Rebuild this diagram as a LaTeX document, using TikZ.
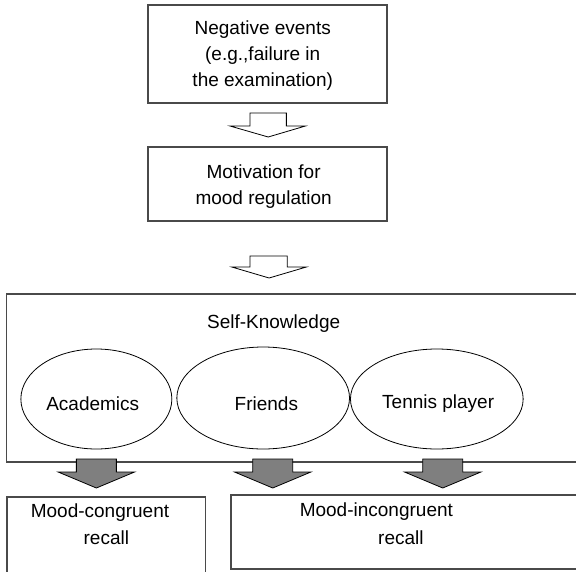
\documentclass[tikz,border=0pt]{standalone}
\usepackage{fontspec}
\setmainfont{Liberation Sans}
\usetikzlibrary{shapes.geometric}
\definecolor{boxline}{HTML}{4A4A4A}
\definecolor{arrowgray}{HTML}{7F7F7F}
\tikzset{
  txt/.style={font=\fontsize{19}{26}\selectfont, inner sep=0pt, align=center},
  boxnode/.style={draw=boxline, line width=1.6pt, txt},
  ellnode/.style={draw=black, line width=0.8pt, ellipse, txt, inner sep=0pt},
  hollowarrow/.style={draw=black, line width=0.8pt, fill=white, line join=miter},
  grayarrow/.style={draw=black, line width=0.8pt, fill=arrowgray, line join=miter}
}
\begin{document}
\begin{tikzpicture}[x=0.90909pt,y=-1pt]
\useasboundingbox (0,0) rectangle (633.6,571);
\clip (0,0) rectangle (633.6,571);
% top boxes
\node[boxnode, minimum width=239pt, minimum height=98pt] (neg) at (294.5,54) {};
\node[txt] (negtxt) at (289,56) {Negative events\\(e.g.,failure in\\the examination)};
\node[boxnode, minimum width=239pt, minimum height=74pt] (mot) at (294.5,184) {};
\node[txt] (mottxt) at (290,187) {Motivation for\\mood regulation};
% hollow arrows
\draw[hollowarrow] (275,113) -- (315,113) -- (315,126) -- (336,126) -- (295,137) -- (253,126) -- (275,126) -- cycle;
\draw[hollowarrow] (275,256) -- (316,256) -- (316,267) -- (337,267) -- (296,278) -- (255,267) -- (275,267) -- cycle;
% big box (open on the right)
\draw[boxline, line width=1.6pt] (660,294) -- (7,294) -- (7,462) -- (660,462);
\coordinate (sk) at (301,324);
\node[txt] (sktxt) at (sk) {Self-Knowledge};
% ellipses
\node[ellnode, minimum width=151pt, minimum height=100pt] (acad) at (106,399) {};
\node[txt] at (102,404) {Academics};
\node[ellnode, minimum width=172.7pt, minimum height=102pt] (friends) at (289.5,398) {};
\node[txt] at (293,404) {Friends};
\node[ellnode, minimum width=172.7pt, minimum height=100pt] (tennis) at (480.5,399) {};
\node[txt] at (482,404) {Tennis player};
% gray arrows
\foreach \cx in {106,300,487}{
  \draw[grayarrow] (\cx-22,459) -- (\cx+22,459) -- (\cx+22,472) -- (\cx+42,472) -- (\cx,488) -- (\cx-42,472) -- (\cx-22,472) -- cycle;
}
% bottom boxes
\draw[boxline, line width=1.6pt] (8,590) -- (8,497) -- (226,497) -- (226,590);
\node[txt] (mc1) at (110,513) {Mood-congruent};
\node[txt] (mc2) at (117,538) {recall};
\draw[boxline, line width=1.6pt] (660,569) -- (254,569) -- (254,495) -- (660,495);
\node[txt] (mi1) at (414,512) {Mood-incongruent};
\node[txt] (mi2) at (441,538) {recall};
\end{tikzpicture}
\end{document}
